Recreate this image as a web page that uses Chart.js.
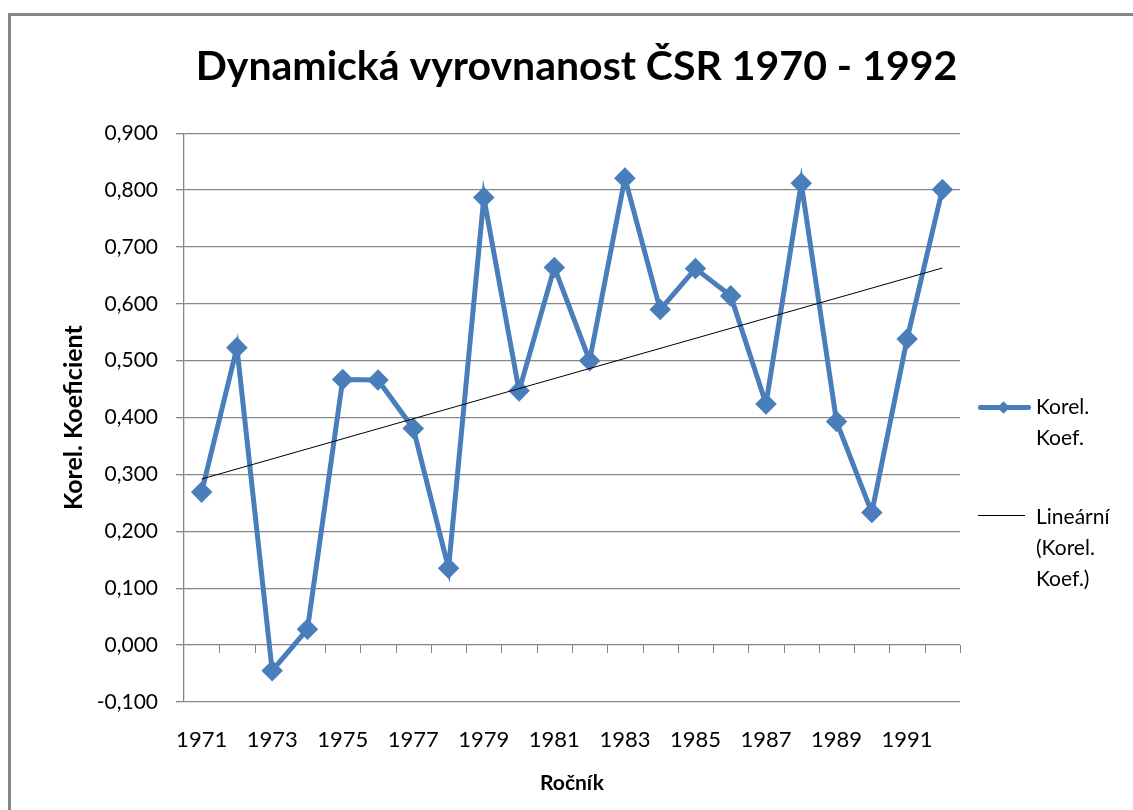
<!DOCTYPE html>
<html>
<head>
<meta charset="utf-8">
<script src="https://cdn.jsdelivr.net/npm/chart.js@4"></script>
<style>
  html, body { margin: 0; padding: 0; background: #fff; }
  #wrap { position: relative; width: 1133px; height: 810px; overflow: hidden; font-family: Lato, "Open Sans", sans-serif; }
  #frame { position: absolute; left: 8px; top: 13px; width: 1200px; height: 900px;
           border-left: 3px solid #868686; border-top: 3px solid #868686; }
  canvas { position: absolute; left: 0; top: 0; }
  .leg { position: absolute; left: 978px; font-size: 21px; line-height: 31px; color: #000; }
  .leg .txt { position: absolute; left: 58px; top: 0; white-space: nowrap; }
  .sym-line { position: absolute; left: 0; width: 53px; }
  .sym-dia { position: absolute; left: 21px; width: 9px; height: 9px; background: #4a7ebb; transform: rotate(45deg); }
</style>
</head>
<body>
<div id="wrap">
  <div id="frame"></div>
  <canvas id="chart" width="1133" height="810"></canvas>
  <div class="leg" style="top:390px">
    <div class="sym-line" style="top:15px;height:5px;background:#4a7ebb;border-radius:2px"></div>
    <div class="sym-dia" style="top:13px"></div>
    <div class="txt">Korel.<br>Koef.</div>
  </div>
  <div class="leg" style="top:500px">
    <div class="sym-line" style="top:15px;height:1px;width:47px;background:#000"></div>
    <div class="txt">Lineární<br>(Korel.<br>Koef.)</div>
  </div>
</div>
<script>
const BLUE = "#4a7ebb";
const GRID = "#868686";
const FONT = "Lato, 'Open Sans', sans-serif";

const years = ["1971", "1972", "1973", "1974", "1975", "1976", "1977", "1978", "1979", "1980", "1981",
  "1982", "1983", "1984", "1985", "1986", "1987", "1988", "1989", "1990", "1991", "1992"];
const korelKoef = [0.269, 0.523, -0.045, 0.028, 0.467, 0.466, 0.381, 0.135, 0.787, 0.447, 0.664,
  0.500, 0.821, 0.590, 0.662, 0.614, 0.424, 0.812, 0.393, 0.233, 0.538, 0.801];
const trendYears = ["1971", "1992"];
const trendValues = [0.292, 0.663];

// small tick marks hanging from the zero line, between categories
const zeroTicks = {
  id: "zeroTicks",
  beforeDatasetsDraw(chart) {
    const x = chart.scales.x, y = chart.scales.y;
    const y0 = y.getPixelForValue(0);
    const half = (x.getPixelForValue(1) - x.getPixelForValue(0)) / 2;
    const ctx = chart.ctx;
    ctx.save();
    ctx.strokeStyle = GRID;
    ctx.lineWidth = 1;
    ctx.beginPath();
    for (let i = 0; i < years.length; i++) {
      const px = Math.round(x.getPixelForValue(i) + half) + 0.5;
      ctx.moveTo(px, y0);
      ctx.lineTo(px, y0 + 8);
    }
    ctx.stroke();
    ctx.restore();
  },
};

new Chart(document.getElementById("chart"), {
  type: "line",
  data: {
    labels: years,
    datasets: [
      {
        label: "Lineární (Korel. Koef.)",
        data: trendYears.map((yr, i) => ({ x: yr, y: trendValues[i] })),
        borderColor: "#000",
        borderWidth: 1,
        pointRadius: 0,
        order: 0,
      },
      {
        label: "Korel. Koef.",
        data: korelKoef,
        borderColor: BLUE,
        backgroundColor: BLUE,
        borderWidth: 5,
        pointStyle: "rectRot",
        pointRadius: 9,
        pointBorderWidth: 2.5,
        pointBorderColor: BLUE,
        tension: 0,
        order: 1,
      },
    ],
  },
  plugins: [zeroTicks],
  options: {
    responsive: false,
    animation: false,
    layout: { padding: { left: 20, right: 0, top: 0, bottom: 0 } },
    plugins: {
      legend: { display: false },
      tooltip: { enabled: false },
      title: {
        display: true,
        text: "Dynamická vyrovnanost ČSR 1970 - 1992",
        color: "#000",
        font: { family: FONT, size: 41, weight: "bold" },
        padding: { top: 42, bottom: 42 },
      },
    },
    scales: {
      x: {
        type: "category",
        offset: true,
        grid: { display: false, drawTicks: false },
        border: { display: false },
        ticks: {
          autoSkip: false,
          maxRotation: 0,
          padding: 25,
          color: "#000",
          font: { family: FONT, size: 22 },
          callback: (v, i) => (i % 2 === 0 ? years[i] : ""),
        },
        title: {
          display: true,
          text: "Ročník",
          color: "#000",
          font: { family: FONT, size: 21, weight: "bold" },
          padding: { top: 0, bottom: 14 },
        },
        afterFit: (s) => { s.height = 108; },
      },
      y: {
        min: -0.1,
        max: 0.9,
        grid: { color: GRID, lineWidth: 1.3, tickLength: 8 },
        border: { display: true, color: GRID, width: 1.3 },
        ticks: {
          stepSize: 0.1,
          padding: 18,
          color: "#000",
          font: { family: FONT, size: 21 },
          callback: (v) => v.toFixed(3).replace(".", ","),
        },
        title: {
          display: true,
          text: "Korel. Koeficient",
          color: "#000",
          font: { family: FONT, size: 25, weight: "bold" },
          padding: { top: 39, bottom: 0 },
        },
        afterFit: (s) => { s.width = 164; },
      },
      // empty right-hand strip that holds the legend area
      legendSpace: {
        type: "linear",
        position: "right",
        grid: { display: false },
        border: { display: false },
        ticks: { display: false },
        afterFit: (s) => { s.width = 173; },
      },
    },
  },
});
</script>
</body>
</html>
